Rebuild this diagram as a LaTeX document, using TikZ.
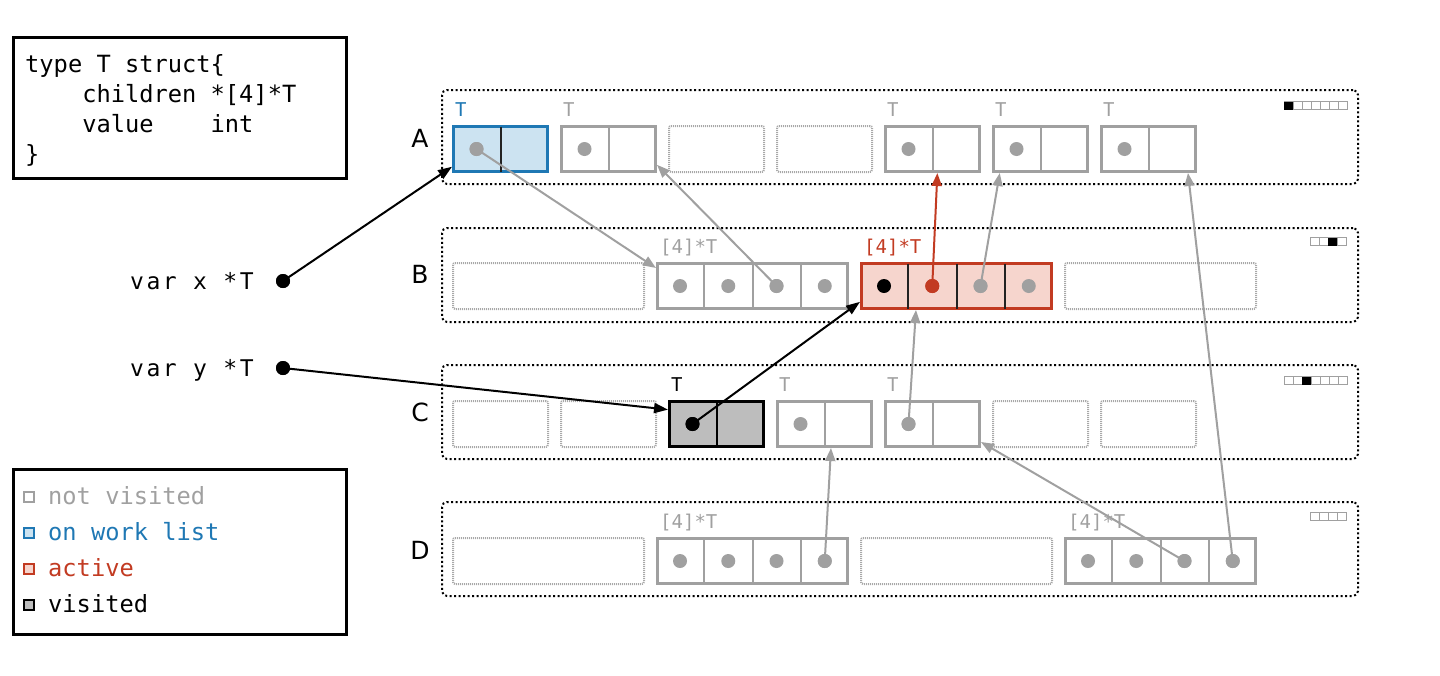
\documentclass[tikz,border=0pt]{standalone}
\usepackage{fontspec}
\setmonofont{DejaVu Sans Mono}
\setsansfont{DejaVu Sans}
\usetikzlibrary{arrows.meta,calc}
\definecolor{gr}{HTML}{A0A0A0}
\definecolor{bl}{HTML}{1F78B4}
\definecolor{blf}{HTML}{CCE3F1}
\definecolor{rd}{HTML}{C23B22}
\definecolor{rdf}{HTML}{F6D5CD}
\definecolor{vf}{HTML}{BDBDBD}
\definecolor{emp}{HTML}{A8A8A8}
\definecolor{dk}{HTML}{222222}
\newcommand\scell[4]{%
  \node[cell,#4,minimum width=94pt] (#1) at (#2,#3) {};
  \draw[#4div] (#1.north) -- (#1.south);}
\newcommand\acell[4]{%
  \node[cell,#4,minimum width=190pt] (#1) at (#2,#3) {};
  \foreach \f in {0.25,0.5,0.75}
    \draw[#4div] ($(#1.north west)!\f!(#1.north east)$) -- ($(#1.south west)!\f!(#1.south east)$);}
\newcommand\ecell[4]{%
  \node[emptyslot,minimum width=#4] (#1) at (#2,#3) {};}
\begin{document}
\begin{tikzpicture}[x=1pt,y=-1pt,
  frame/.style={draw=black,line width=3pt,anchor=north west,inner sep=0pt},
  cell/.style={line width=3pt,minimum height=45pt,inner sep=0pt,anchor=north west},
  ns/.style={draw=gr,fill=white},
  wl/.style={draw=bl,fill=blf},
  ac/.style={draw=rd,fill=rdf},
  vs/.style={draw=black,fill=vf},
  nsdiv/.style={draw=gr,line width=2pt,shorten <=1.5pt,shorten >=1.5pt},
  wldiv/.style={draw=dk,line width=2pt,shorten <=1.5pt,shorten >=1.5pt},
  acdiv/.style={draw=dk,line width=2pt,shorten <=1.5pt,shorten >=1.5pt},
  vsdiv/.style={draw=black,line width=2pt,shorten <=1.5pt,shorten >=1.5pt},
  emptyslot/.style={draw=emp,line width=2pt,dash pattern=on 1pt off 1pt,rounded corners=2pt,minimum height=46pt,inner sep=0pt,anchor=north west},
  cont/.style={draw=black,line width=2pt,dash pattern=on 2pt off 2.5pt,rounded corners=5pt,minimum width=916pt,minimum height=94pt,inner sep=0pt,anchor=north west},
  dot/.style={circle,minimum size=14pt,inner sep=0pt},
  tlab/.style={anchor=base west,inner sep=0pt,font=\fontsize{19}{19}\ttfamily},
  rowlab/.style={anchor=base,inner sep=0pt,font=\fontsize{25}{25}\sffamily},
  code/.style={anchor=base west,inner sep=0pt,font=\fontsize{23.7}{30}\ttfamily},
  vlab/.style={anchor=base west,inner sep=0pt,font=\fontsize{23}{23}\ttfamily\addfontfeature{LetterSpace=11}},
  legsq/.style={line width=2pt,minimum size=10pt,inner sep=0pt},
  bit/.style={draw=gr,line width=1pt},
  garr/.style={draw=gr,line width=2pt,-{Triangle[length=13pt,width=10pt]}},
  barr/.style={draw=black,line width=2pt,-{Triangle[length=14pt,width=10pt]}},
  rarr/.style={draw=rd,line width=2pt,-{Triangle[length=13pt,width=10pt]}}
]
\useasboundingbox (0,0) rectangle (1440,675);

% code box
\node[frame,minimum width=333pt,minimum height=141pt] (codebox) at (12,36) {};
\node[code] (c1) at (25,72) {type T struct\{};
\node[code] (c2) at (25,102) {\ \ \ \ children *[4]*T};
\node[code] (c3) at (25,132) {\ \ \ \ value\ \ \ \ int};
\node[code] (c4) at (25,162) {\}};

% legend
\node[frame,minimum width=333pt,minimum height=165pt] (legbox) at (12,468) {};
\node[legsq,draw=gr,fill=white] (q1) at (29,497) {};
\node[legsq,draw=bl,fill=blf] (q2) at (29,533) {};
\node[legsq,draw=rd,fill=rdf] (q3) at (29,569) {};
\node[legsq,draw=black,fill=vf] (q4) at (29,605) {};
\node[code,text=gr] (l1) at (48,504) {not visited};
\node[code,text=bl] (l2) at (48,540) {on work list};
\node[code,text=rd] (l3) at (48,576) {active};
\node[code,text=black] (l4) at (48,612) {visited};

% variables
\node[vlab] (vx) at (130,289) {var x *T};
\node[vlab] (vy) at (130,376) {var y *T};
\node[dot,fill=black] (xd) at (283,281) {};
\node[dot,fill=black] (yd) at (283,368) {};

% row labels
\node[rowlab] (rA) at (420,147) {A};
\node[rowlab] (rB) at (420,283) {B};
\node[rowlab] (rC) at (420,421) {C};
\node[rowlab] (rD) at (420,559) {D};

% containers
\node[cont] (rowA) at (441,89) {};
\node[cont] (rowB) at (441,227) {};
\node[cont] (rowC) at (441,364) {};
\node[cont] (rowD) at (441,501) {};

% bitmaps
\foreach \i in {0,...,6} \draw[bit] (1284+9*\i,101.5) rectangle +(9,8);
\fill[black] (1284,101.5) rectangle +(9,8);
\foreach \i in {0,...,3} \draw[bit] (1310+9*\i,237.5) rectangle +(9,8);
\fill[black] (1328,237.5) rectangle +(9,8);
\foreach \i in {0,...,6} \draw[bit] (1284+9*\i,376.5) rectangle +(9,8);
\fill[black] (1302,376.5) rectangle +(9,8);
\foreach \i in {0,...,3} \draw[bit] (1310+9*\i,512.5) rectangle +(9,8);

% row A
\scell{A1}{452}{125}{wl}
\scell{A2}{560}{125}{ns}
\ecell{A3}{668}{125}{95pt}
\ecell{A4}{776}{125}{95pt}
\scell{A5}{884}{125}{ns}
\scell{A6}{992}{125}{ns}
\scell{A7}{1100}{125}{ns}
\node[tlab,text=bl] (A1l) at (455,116) {T};
\node[tlab,text=gr] (A2l) at (563,116) {T};
\node[tlab,text=gr] (A5l) at (887,116) {T};
\node[tlab,text=gr] (A6l) at (995,116) {T};
\node[tlab,text=gr] (A7l) at (1103,116) {T};
\node[dot,fill=gr] (A1d) at (476.5,149) {};
\node[dot,fill=gr] (A2d) at (584.5,149) {};
\node[dot,fill=gr] (A5d) at (908.5,149) {};
\node[dot,fill=gr] (A6d) at (1016.5,149) {};
\node[dot,fill=gr] (A7d) at (1124.5,149) {};

% row B
\ecell{B1}{452}{262}{191pt}
\acell{B2}{656}{262}{ns}
\acell{B3}{860}{262}{ac}
\ecell{B4}{1064}{262}{191pt}
\node[tlab,text=gr] (B2l) at (660,253) {[4]*T};
\node[tlab,text=rd] (B3l) at (864,253) {[4]*T};
\node[dot,fill=gr] (B2a) at (680,286) {};
\node[dot,fill=gr] (B2b) at (728.25,286) {};
\node[dot,fill=gr] (B2c) at (776.5,286) {};
\node[dot,fill=gr] (B2d) at (824.75,286) {};
\node[dot,fill=black] (B3a) at (884,286) {};
\node[dot,fill=rd] (B3b) at (932.25,286) {};
\node[dot,fill=gr] (B3c) at (980.5,286) {};
\node[dot,fill=gr] (B3d) at (1028.75,286) {};

% row C
\ecell{C1}{452}{400}{95pt}
\ecell{C2}{560}{400}{95pt}
\scell{C3}{668}{400}{vs}
\scell{C4}{776}{400}{ns}
\scell{C5}{884}{400}{ns}
\ecell{C6}{992}{400}{95pt}
\ecell{C7}{1100}{400}{95pt}
\node[tlab,text=black] (C3l) at (671,391) {T};
\node[tlab,text=gr] (C4l) at (779,391) {T};
\node[tlab,text=gr] (C5l) at (887,391) {T};
\node[dot,fill=black] (C3d) at (692.5,424) {};
\node[dot,fill=gr] (C4d) at (800.5,424) {};
\node[dot,fill=gr] (C5d) at (908.5,424) {};

% row D
\ecell{D1}{452}{537}{191pt}
\acell{D2}{656}{537}{ns}
\ecell{D3}{860}{537}{191pt}
\acell{D4}{1064}{537}{ns}
\node[tlab,text=gr] (D2l) at (660,528) {[4]*T};
\node[tlab,text=gr] (D4l) at (1068,528) {[4]*T};
\node[dot,fill=gr] (D2a) at (680,561) {};
\node[dot,fill=gr] (D2b) at (728.25,561) {};
\node[dot,fill=gr] (D2c) at (776.5,561) {};
\node[dot,fill=gr] (D2d) at (824.75,561) {};
\node[dot,fill=gr] (D4a) at (1088,561) {};
\node[dot,fill=gr] (D4b) at (1136.25,561) {};
\node[dot,fill=gr] (D4c) at (1184.5,561) {};
\node[dot,fill=gr] (D4d) at (1232.75,561) {};

% arrow targets
\coordinate (t1) at ($(A1.south west)!0.13!(A1.north west)$);
\coordinate (t2) at ($(C3.north west)!0.2!(C3.south west)$);
\coordinate (t3) at ($(B3.south west)!0.17!(B3.north west)$);
\coordinate (t4) at ($(B2.north west)!0.125!(B2.south west)$);
\coordinate (t5) at ($(A2.south east)!0.17!(A2.north east)$);
\coordinate (t6) at ($(A5.south west)!0.55!(A5.south east)$);
\coordinate (t7) at ($(A6.south west)!0.08!(A6.south east)$);
\coordinate (t8) at ($(B3.south west)!0.29!(B3.south east)$);
\coordinate (t9) at ($(C4.south west)!0.567!(C4.south east)$);
\coordinate (t10) at ($(C5.south east)!0.125!(C5.north east)$);
\coordinate (t11) at ($(A7.south west)!0.907!(A7.south east)$);

% arrows
\draw[garr] (A1d.center) -- (t4);
\draw[garr] (B2c.center) -- (t5);
\draw[rarr] (B3b.center) -- (t6);
\draw[garr] (B3c.center) -- (t7);
\draw[garr] (C5d.center) -- (t8);
\draw[garr] (D2d.center) -- (t9);
\draw[garr] (D4c.center) -- (t10);
\draw[garr] (D4d.center) -- (t11);
\draw[barr] (xd.center) -- (t1);
\draw[barr] (yd.center) -- (t2);
\draw[barr] (C3d.center) -- (t3);
% redraw dots on top
\foreach \n/\c in {A1d/gr,B2c/gr,B3b/rd,B3c/gr,C5d/gr,D2d/gr,D4c/gr,D4d/gr,xd/black,yd/black,C3d/black}
  \fill[\c] (\n.center) circle (7);
\end{tikzpicture}
\end{document}
